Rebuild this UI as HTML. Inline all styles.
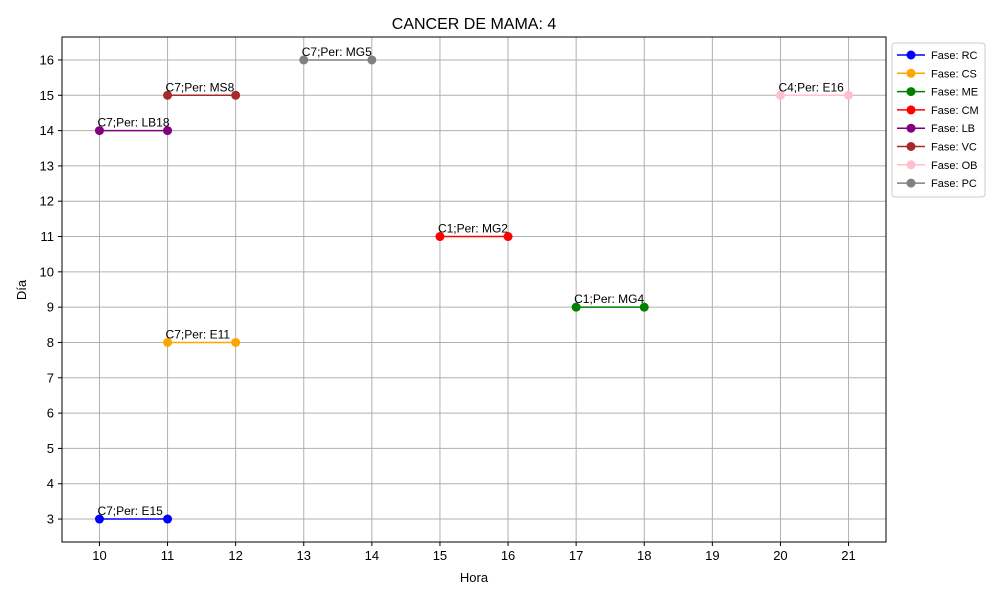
<!DOCTYPE html>
<html><head><meta charset="utf-8"><style>
body{margin:0;background:#fff;}
svg{display:block;font-family:"Liberation Sans","DejaVu Sans",sans-serif;}
</style></head><body>
<svg id="chart" width="1000" height="600"></svg>
<script>
const phases=["RC","CS","ME","CM","LB","VC","OB","PC"];
const colors=["blue","orange","green","red","purple","brown","pink","gray"];
const startHours=[10,11,17,15,10,11,20,13];
const endHours=[11,12,18,16,11,12,21,14];
const days=[3,8,9,11,14,15,15,16];
const labels=["C7;Per: E15","C7;Per: E11","C1;Per: MG4","C1;Per: MG2","C7;Per: LB18","C7;Per: MS8","C4;Per: E16","C7;Per: MG5"];
const xTicks=[10,11,12,13,14,15,16,17,18,19,20,21];
const yTicks=[3,4,5,6,7,8,9,10,11,12,13,14,15,16];
const L=62,R=886,T=37,B=542,xmin=9.45,xmax=21.55,ymin=2.35,ymax=16.65;
const X=v=>L+(v-xmin)/(xmax-xmin)*(R-L);
const Y=v=>B-(v-ymin)/(ymax-ymin)*(B-T);
const svg=document.getElementById('chart');
const NS='http://www.w3.org/2000/svg';
function mk(tag,attrs,parent){const e=document.createElementNS(NS,tag);for(const k in attrs)e.setAttribute(k,attrs[k]);(parent||svg).appendChild(e);return e;}
const grid=mk('g',{});


xTicks.forEach(v=>{
  mk('line',{x1:X(v),x2:X(v),y1:T,y2:B,stroke:'#b0b0b0','stroke-width':1},grid);
  mk('line',{x1:X(v),x2:X(v),y1:B,y2:B+4,stroke:'#000'});
  const t=mk('text',{x:X(v),y:B+18,'text-anchor':'middle','font-size':13});
  t.textContent=v;
  
  
});
yTicks.forEach(v=>{
  mk('line',{x1:L,x2:R,y1:Y(v),y2:Y(v),stroke:'#b0b0b0','stroke-width':1},grid);
  mk('line',{x1:L-4,x2:L,y1:Y(v),y2:Y(v),stroke:'#000'});
  const t=mk('text',{x:L-8,y:Y(v)+4.5,'text-anchor':'end','font-size':13});
  t.textContent=v;
  
  
});
const frame=mk('rect',{x:L,y:T,width:R-L,height:B-T,fill:'none',stroke:'#000','stroke-width':1});


phases.forEach((p,i)=>{
  const g=mk('g',{});
  
  
  mk('line',{x1:X(startHours[i]),x2:X(endHours[i]),y1:Y(days[i]),y2:Y(days[i]),stroke:colors[i],'stroke-width':1.5},g);
  [startHours[i],endHours[i]].forEach(h=>mk('circle',{cx:X(h),cy:Y(days[i]),r:4.5,fill:colors[i]},g));
  const t=mk('text',{x:X(startHours[i])-2,y:Y(days[i])-4,'font-size':12},g);
  t.textContent=labels[i];
  
  
});
const title=mk('text',{x:(L+R)/2,y:29,'text-anchor':'middle','font-size':16});
title.textContent='CANCER DE MAMA: 4';


const xt=mk('text',{x:(L+R)/2,y:582,'text-anchor':'middle','font-size':13});
xt.textContent='Hora';


const yt=mk('text',{x:0,y:0,'text-anchor':'middle','font-size':13,transform:'translate(26,290) rotate(-90)'});
yt.textContent='Día';


const lg=mk('g',{});


mk('rect',{x:892,y:43,width:93,height:154,rx:3,fill:'#fff',stroke:'#ccc'},lg);
phases.forEach((p,i)=>{
  const y=55+i*18.3;
  const e=mk('g',{},lg);
  
  
  mk('line',{x1:897,x2:925,y1:y,y2:y,stroke:colors[i],'stroke-width':1.5},e);
  mk('circle',{cx:911,cy:y,r:4.5,fill:colors[i]},e);
  const t=mk('text',{x:931,y:y+4,'font-size':11},e);
  t.textContent='Fase: '+p;
});
</script>
</body></html>
